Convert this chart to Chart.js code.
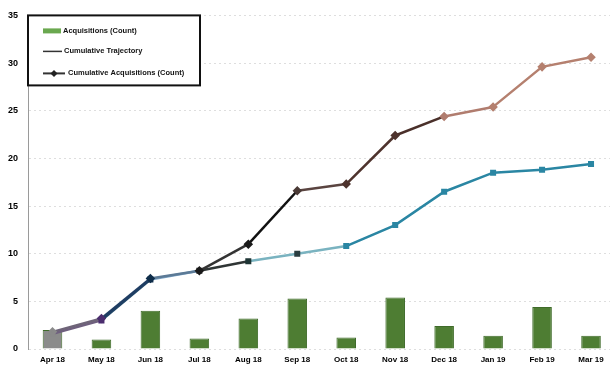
<!DOCTYPE html>
<html>
<head>
<meta charset="utf-8">
<script src="https://cdn.jsdelivr.net/npm/chart.js@4/dist/chart.umd.min.js"></script>
<style>
  html, body { margin: 0; padding: 0; background: #fff; overflow: hidden; width: 610px; height: 369px; }
  #wrap { position: relative; width: 622px; height: 369px; }
</style>
</head>
<body>
<div id="wrap"><canvas id="c"></canvas></div>
<script>
// Months shown on the x axis
const months = ['Apr 18', 'May 18', 'Jun 18', 'Jul 18', 'Aug 18', 'Sep 18',
                'Oct 18', 'Nov 18', 'Dec 18', 'Jan 19', 'Feb 19', 'Mar 19'];

// Monthly acquisitions (bars)
const acquisitions = [2, 1, 4, 1.1, 3.2, 5.3, 1.2, 5.4, 2.4, 1.4, 4.4, 1.4];

// Cumulative trajectory (lower line)
const cumulativeTrajectory = [1.6, 3.0, 7.3, 8.2, 9.2, 10.0, 10.8, 13.0, 16.5, 18.5, 18.8, 19.4];

// Cumulative acquisitions (upper line)
const cumulativeAcquisitions = [1.8, 3.2, 7.4, 8.2, 11.0, 16.6, 17.3, 22.4, 24.4, 25.4, 29.6, 30.6];

// Y axis tick values
const yTicks = [0, 5, 10, 15, 20, 25, 30, 35];

const legendLabels = ['Acquisitions (Count)', 'Cumulative Trajectory', 'Cumulative Acquisitions (Count)'];

// Per-month colours for bars, segments and points
const barColors = ['#8b8b8b', '#4e7d33', '#4e7d33', '#4e7d33', '#4e7d33', '#4e7d33',
                   '#4e7d33', '#4e7d33', '#4e7d33', '#4e7d33', '#4e7d33', '#4e7d33'];
const upperSeg = ['#6e6478', '#1f3d63', '#5c7a96', '#333333', '#111111', '#5a4440',
                  '#4e332d', '#4a302a', '#b07c6e', '#b5806f', '#b5806f'];
const upperPts = ['#8a8a8a', '#4b2d6e', '#0f2d4a', '#1a1a1a', '#1a1a1a', '#4a3a36',
                  '#4e332d', '#4e332d', '#b07c6e', '#b5806f', '#b5806f', '#b5806f'];
const lowerSeg = ['#6f5f7f', '#1f4466', '#7da6c8', '#2f3535', '#7ab3c0', '#7ab3c0',
                  '#2a86a3', '#2a86a3', '#2a86a3', '#2a86a3', '#2a86a3'];
const lowerPts = ['#8a8a8a', '#4b2d6e', '#0f2d4a', '#222222', '#1e3535', '#2a3d40',
                  '#2a86a3', '#2a86a3', '#2a86a3', '#2a86a3', '#2a86a3', '#2a86a3'];

const FONT = "'Liberation Sans', Arial, sans-serif";

// Boxed legend drawn inside the plot, top-left
const boxLegend = {
  id: 'boxLegend',
  afterDatasetsDraw(chart) {
    const ctx = chart.ctx;
    const x = chart.chartArea.left, y = chart.chartArea.top;
    const w = 172, h = 70;
    ctx.save();
    ctx.fillStyle = '#fff';
    ctx.fillRect(x, y, w, h);
    ctx.lineWidth = 2;
    ctx.strokeStyle = '#111';
    ctx.strokeRect(x, y, w, h);
    ctx.font = 'bold 7.5px ' + FONT;
    ctx.fillStyle = '#111';
    ctx.textBaseline = 'middle';
    // bar swatch
    ctx.fillStyle = '#6aa84f';
    ctx.fillRect(x + 15, y + 13, 18, 5);
    ctx.fillStyle = '#111';
    ctx.fillText(legendLabels[0], x + 35, y + 15.5);
    // plain line swatch
    ctx.strokeStyle = '#333';
    ctx.lineWidth = 1.5;
    ctx.beginPath(); ctx.moveTo(x + 15, y + 36); ctx.lineTo(x + 34, y + 36); ctx.stroke();
    ctx.fillText(legendLabels[1], x + 36, y + 36);
    // line + marker swatch
    ctx.lineWidth = 2;
    ctx.beginPath(); ctx.moveTo(x + 15, y + 58); ctx.lineTo(x + 37, y + 58); ctx.stroke();
    ctx.fillStyle = '#222';
    ctx.beginPath();
    ctx.moveTo(x + 26, y + 54.5); ctx.lineTo(x + 29.5, y + 58);
    ctx.lineTo(x + 26, y + 61.5); ctx.lineTo(x + 22.5, y + 58); ctx.closePath(); ctx.fill();
    ctx.fillStyle = '#111';
    ctx.fillText(legendLabels[2], x + 40, y + 58);
    ctx.restore();
  }
};

new Chart(document.getElementById('c'), {
  data: {
    labels: months,
    datasets: [
      {
        type: 'line',
        label: legendLabels[2],
        data: cumulativeAcquisitions,
        borderWidth: 2.5,
        borderColor: '#4e332d',
        segment: { borderColor: c => upperSeg[c.p0DataIndex] },
        pointStyle: 'rectRot',
        pointRadius: 3,
        pointBackgroundColor: upperPts,
        pointBorderColor: upperPts,
        tension: 0,
        order: 1
      },
      {
        type: 'line',
        label: legendLabels[1],
        data: cumulativeTrajectory,
        borderWidth: 2.5,
        borderColor: '#2a86a3',
        segment: { borderColor: c => lowerSeg[c.p0DataIndex] },
        pointStyle: 'rect',
        pointRadius: 2.5,
        pointBackgroundColor: lowerPts,
        pointBorderColor: lowerPts,
        tension: 0,
        order: 2
      },
      {
        type: 'bar',
        label: legendLabels[0],
        data: acquisitions,
        backgroundColor: barColors,
        borderColor: '#3f6b2a',
        borderWidth: 1,
        barPercentage: 0.4,
        categoryPercentage: 1,
        order: 3
      }
    ]
  },
  options: {
    responsive: true,
    maintainAspectRatio: false,
    animation: false,
    layout: { padding: { top: 10, right: 0, left: 0, bottom: 0 } },
    plugins: { legend: { display: false }, tooltip: { enabled: false } },
    scales: {
      x: {
        offset: true,
        grid: { display: false, drawTicks: false },
        border: { display: false },
        ticks: { color: '#000', font: { family: FONT, size: 8, weight: 'bold' }, padding: 6, maxRotation: 0, autoSkip: false },
        afterFit: s => { s.height = 20; }
      },
      y: {
        min: 0,
        max: 35,
        afterBuildTicks: s => { s.ticks = yTicks.map(v => ({ value: v })); },
        grid: { color: '#dedede', lineWidth: 1, drawTicks: false },
        border: { display: true, color: '#9a9a9a', dash: [2, 3] },
        ticks: { color: '#000', font: { family: FONT, size: 9, weight: 'bold' }, padding: 10 },
        afterFit: s => { s.width = 28; }
      }
    }
  },
  plugins: [boxLegend]
});
</script>
</body>
</html>
